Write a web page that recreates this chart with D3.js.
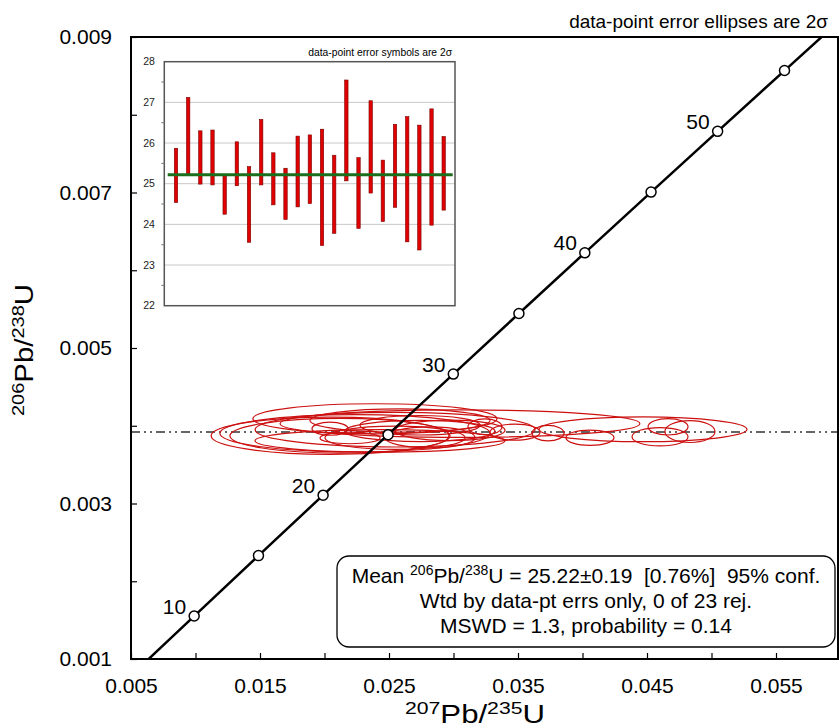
<!DOCTYPE html>
<html>
<head>
<meta charset="utf-8">
<script src="https://cdn.jsdelivr.net/npm/d3@7"></script>
<style>
  body { margin: 0; background: #fff; }
  svg { display: block; font-family: "Liberation Sans", Arial, sans-serif; }
</style>
</head>
<body>
<svg id="chart" width="839" height="728"></svg>
<script>
// ---- concordia (age markers in Ma, with their 207Pb/235U and 206Pb/238U ratios)
var concAges = [5, 10, 15, 20, 25, 30, 35, 40, 45, 50, 55, 60];
var concX = [0.0049364, 0.0098972, 0.0148824, 0.0198923, 0.0249268, 0.0299863,
             0.0350707, 0.0401801, 0.0453150, 0.0504750, 0.0556606, 0.0608723];
var concY = [0.0007759, 0.0015525, 0.0023296, 0.0031073, 0.0038857, 0.0046646,
             0.0054441, 0.0062243, 0.0070051, 0.0077864, 0.0085684, 0.0093509];
var labelAges = [10, 20, 30, 40, 50];

// ---- axes
var xTicks = [0.005, 0.010, 0.015, 0.020, 0.025, 0.030, 0.035, 0.040, 0.045, 0.050, 0.055];
var xTickLabels = ['0.005', '0.015', '0.025', '0.035', '0.045', '0.055'];
var yTicks = [0.001, 0.002, 0.003, 0.004, 0.005, 0.006, 0.007, 0.008, 0.009];
var yTickLabels = ['0.001', '0.003', '0.005', '0.007', '0.009'];

// ---- data-point error ellipses (2 sigma): 207/235 centre & err, 206/238 centre & err
var ellX  = [0.03477, 0.02585, 0.03244, 0.04663, 0.02198, 0.02043, 0.02430, 0.02740,
             0.03733, 0.04058, 0.02740, 0.02973, 0.02120, 0.02547, 0.02391, 0.02818,
             0.03050, 0.04601, 0.04469, 0.02236, 0.02043, 0.02547, 0.04833];
var ellSx = [0.00194, 0.00698, 0.00132, 0.00155, 0.00233, 0.00140, 0.00969, 0.00465,
             0.00124, 0.00186, 0.00581, 0.00426, 0.00853, 0.00543, 0.00946, 0.00349,
             0.01395, 0.00217, 0.00806, 0.01047, 0.00922, 0.01085, 0.00194];
var ellY  = [0.0039176, 0.0040664, 0.0039862, 0.0039862, 0.0038436, 0.0039620, 0.0038062,
             0.0040064, 0.0039044, 0.0038467, 0.0039324, 0.0039410, 0.0038717, 0.0038452,
             0.0040898, 0.0038499, 0.0040267, 0.0038584, 0.0039543, 0.0039028, 0.0038709,
             0.0039496, 0.0039254];
var ellSy = [0.0001036, 0.0001496, 0.0001020, 0.0001052, 0.0000748, 0.0000841, 0.0001449,
             0.0001254, 0.0000997, 0.0000982, 0.0001355, 0.0001317, 0.0002228, 0.0001496,
             0.0001932, 0.0001355, 0.0001768, 0.0001176, 0.0001589, 0.0002399, 0.0002392,
             0.0002228, 0.0001410];
var meanRatio = 0.0039199;

// ---- inset: 206Pb/238U ages with 2 sigma bars
var insetLo = [24.54, 25.20, 24.99, 24.97, 24.25, 24.95, 23.56, 24.97, 24.48, 24.12, 24.43, 24.51,
               23.48, 23.78, 25.07, 23.90, 24.77, 24.07, 24.42, 23.57, 23.37, 23.98, 24.35];
var insetHi = [25.87, 27.12, 26.30, 26.32, 25.21, 26.03, 25.42, 26.58, 25.76, 25.38, 26.17, 26.20,
               26.34, 25.70, 27.55, 25.64, 27.04, 25.58, 26.46, 26.65, 26.44, 26.84, 26.16];
var insetMean = 25.22;
var insetTicks = [22, 23, 24, 25, 26, 27, 28];
var insetMinor = [22.5, 23.5, 24.5, 25.5, 26.5, 27.5];

var legendLines = ['Wtd by data-pt errs only, 0 of 23 rej.', 'MSWD = 1.3, probability = 0.14'];

// ---------------------------------------------------------------
var svg = d3.select('#chart');
var L = 131, R = 838, T = 37, B = 659;

var x = d3.scaleLinear().domain([0.005, 0.005 + (R - L) / 12900]).range([L, R]);
var y = d3.scaleLinear().domain([0.001, 0.009]).range([B, T]);

svg.append('defs').append('clipPath').attr('id', 'plotclip')
    .append('rect').attr('x', L).attr('y', T).attr('width', R - L).attr('height', B - T);

var plot = svg.append('g').attr('clip-path', 'url(#plotclip)');

// mean line
plot.append('line')
    .attr('x1', L).attr('x2', R)
    .attr('y1', y(meanRatio)).attr('y2', y(meanRatio))
    .attr('stroke', '#333').attr('stroke-width', 1.5)
    .attr('stroke-dasharray', '9,4,2,4,2,4');

// ellipses
plot.append('g').selectAll('ellipse')
    .data(d3.range(ellX.length))
    .join('ellipse')
    .attr('cx', i => x(ellX[i]))
    .attr('cy', i => y(ellY[i]))
    .attr('rx', i => x(ellX[i] + ellSx[i]) - x(ellX[i]))
    .attr('ry', i => y(ellY[i]) - y(ellY[i] + ellSy[i]))
    .attr('fill', 'none')
    .attr('stroke', '#cc1010')
    .attr('stroke-width', 1.2);

// concordia
var conc = d3.range(concAges.length);
plot.append('path')
    .datum(conc)
    .attr('d', d3.line().x(i => x(concX[i])).y(i => y(concY[i])).curve(d3.curveMonotoneX))
    .attr('fill', 'none').attr('stroke', '#000').attr('stroke-width', 2.5);

var shown = conc.filter(i => concX[i] > x.domain()[0] && concY[i] < y.domain()[1] && concY[i] > y.domain()[0]);
plot.append('g').selectAll('circle')
    .data(shown)
    .join('circle')
    .attr('cx', i => x(concX[i]))
    .attr('cy', i => y(concY[i]))
    .attr('r', 5)
    .attr('fill', '#fff').attr('stroke', '#000').attr('stroke-width', 1.5);

plot.append('g').selectAll('text')
    .data(shown.filter(i => labelAges.indexOf(concAges[i]) >= 0))
    .join('text')
    .attr('x', i => x(concX[i]) - 8)
    .attr('y', i => y(concY[i]) - 2.5)
    .attr('text-anchor', 'end')
    .attr('font-size', 21)
    .text(i => concAges[i]);

// frame
svg.append('rect')
    .attr('x', L).attr('y', T).attr('width', R - L).attr('height', B - T)
    .attr('fill', 'none').attr('stroke', '#000').attr('stroke-width', 2);

// axes
var xAxis = d3.axisBottom(x).tickValues(xTicks).tickSizeInner(-6).tickSizeOuter(0).tickPadding(19)
    .tickFormat(d => { var s = d3.format('.3f')(d); return xTickLabels.indexOf(s) >= 0 ? s : ''; });
var gx = svg.append('g').attr('transform', `translate(0,${B})`).call(xAxis);
gx.select('.domain').remove();
gx.selectAll('text').attr('font-size', 21).attr('fill', '#000').attr('font-family', null);
gx.selectAll('line').attr('stroke-width', 1.2);

var yAxis = d3.axisLeft(y).tickValues(yTicks).tickSizeInner(-6).tickSizeOuter(0).tickPadding(19)
    .tickFormat(d => { var s = d3.format('.3f')(d); return yTickLabels.indexOf(s) >= 0 ? s : ''; });
var gy = svg.append('g').attr('transform', `translate(${L},0)`).call(yAxis);
gy.select('.domain').remove();
gy.selectAll('text').attr('font-size', 21).attr('fill', '#000').attr('font-family', null);
gy.selectAll('line').attr('stroke-width', 1.2);

// axis titles
function isoTitle(sel, a, b) {
  sel.append('tspan').attr('font-size', 17).attr('dy', -9).text(a);
  sel.append('tspan').attr('font-size', 25).attr('dy', 9).text('Pb/');
  sel.append('tspan').attr('font-size', 17).attr('dy', -9).text(b);
  sel.append('tspan').attr('font-size', 25).attr('dy', 9).text('U');
}
var xt = svg.append('text').attr('x', 475).attr('y', 723).attr('text-anchor', 'middle')
    .attr('textLength', 140).attr('lengthAdjust', 'spacingAndGlyphs');
isoTitle(xt, '207', '235');
var yt = svg.append('text').attr('transform', 'translate(33,350) rotate(-90)').attr('text-anchor', 'middle')
    .attr('textLength', 132).attr('lengthAdjust', 'spacingAndGlyphs');
isoTitle(yt, '206', '238');

// top-right note
svg.append('text').attr('x', 828).attr('y', 28).attr('text-anchor', 'end')
    .attr('font-size', 19).text('data-point error ellipses are 2\u03c3');

// legend box
var lg = svg.append('g');
lg.append('rect').attr('x', 337).attr('y', 556).attr('width', 498).attr('height', 91)
    .attr('rx', 12).attr('fill', '#fff').attr('stroke', '#000').attr('stroke-width', 1.3);
var l1 = lg.append('text').attr('x', 586).attr('y', 583).attr('text-anchor', 'middle')
    .attr('font-size', 21).style('white-space', 'pre');
l1.append('tspan').text('Mean ');
l1.append('tspan').attr('font-size', 14).attr('dy', -8).text('206');
l1.append('tspan').attr('dy', 8).text('Pb/');
l1.append('tspan').attr('font-size', 14).attr('dy', -8).text('238');
l1.append('tspan').attr('dy', 8).text('U = 25.22\u00b10.19  [0.76%]  95% conf.');
lg.selectAll('text.ln').data(legendLines).join('text').attr('class', 'ln')
    .attr('x', 586).attr('y', (d, i) => 608 + i * 25).attr('text-anchor', 'middle')
    .attr('font-size', 21).text(d => d);

// ---- inset
var iL = 164.3, iR = 455, iT = 61.7, iB = 305.7;
var iy = d3.scaleLinear().domain([22, 28]).range([iB, iT]);
var ix = d3.scaleLinear().domain([1, 23]).range([176, 443.7]);
var inset = svg.append('g');
inset.append('rect').attr('x', iL).attr('y', iT).attr('width', iR - iL).attr('height', iB - iT)
    .attr('fill', '#fff');
inset.append('g').selectAll('line')
    .data(insetTicks.slice(1, -1))
    .join('line')
    .attr('x1', iL).attr('x2', iR).attr('y1', d => iy(d)).attr('y2', d => iy(d))
    .attr('stroke', '#c8c8c8').attr('stroke-width', 1);
inset.append('rect').attr('x', iL).attr('y', iT).attr('width', iR - iL).attr('height', iB - iT)
    .attr('fill', 'none').attr('stroke', '#555').attr('stroke-width', 1.5);
inset.append('g').selectAll('line')
    .data(insetMinor)
    .join('line')
    .attr('x1', iL - 3).attr('x2', iL).attr('y1', d => iy(d)).attr('y2', d => iy(d))
    .attr('stroke', '#777').attr('stroke-width', 1);
inset.append('g').selectAll('text')
    .data(insetTicks)
    .join('text')
    .attr('x', 149).attr('y', d => iy(d)).attr('dy', '0.35em')
    .attr('text-anchor', 'middle').attr('font-size', 10.5).attr('fill', '#222')
    .text(d => d);
inset.append('g').selectAll('rect')
    .data(d3.range(insetLo.length))
    .join('rect')
    .attr('x', i => ix(i + 1) - 1.7)
    .attr('width', 3.4)
    .attr('y', i => iy(insetHi[i]))
    .attr('height', i => iy(insetLo[i]) - iy(insetHi[i]))
    .attr('fill', '#e00000').attr('stroke', '#7a0000').attr('stroke-width', 0.6);
inset.append('line')
    .attr('x1', 167.7).attr('x2', 452.7)
    .attr('y1', iy(insetMean)).attr('y2', iy(insetMean))
    .attr('stroke', '#1b6e1b').attr('stroke-width', 3);
inset.append('text').attr('x', 452).attr('y', 55.5).attr('text-anchor', 'end')
    .attr('font-size', 10.3).text('data-point error symbols are 2\u03c3');
</script>
</body>
</html>
